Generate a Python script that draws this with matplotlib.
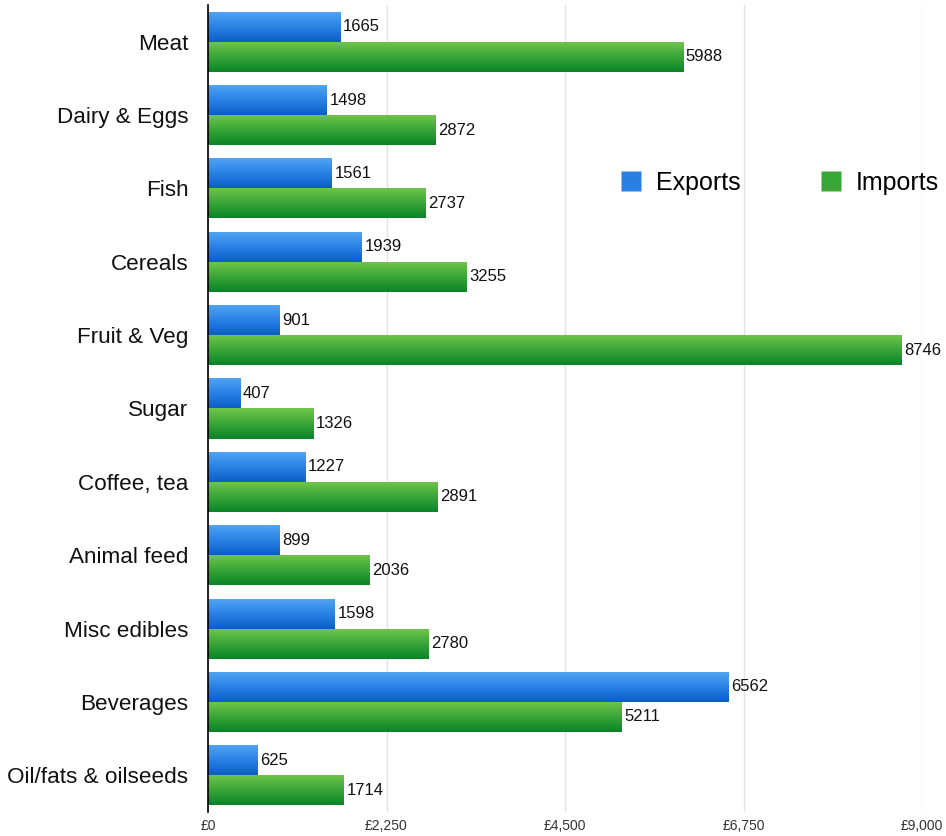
import numpy as np
import matplotlib
matplotlib.use("Agg")
import matplotlib.pyplot as plt
from matplotlib.colors import LinearSegmentedColormap
from matplotlib.lines import Line2D
from matplotlib.ticker import FuncFormatter

categories = ["Meat", "Dairy & Eggs", "Fish", "Cereals", "Fruit & Veg", "Sugar",
              "Coffee, tea", "Animal feed", "Misc edibles", "Beverages",
              "Oil/fats & oilseeds"]
exports = [1665, 1498, 1561, 1939, 901, 407, 1227, 899, 1598, 6562, 625]
imports = [5988, 2872, 2737, 3255, 8746, 1326, 2891, 2036, 2780, 5211, 1714]
xticks = [0, 2250, 4500, 6750, 9000]

plt.rcParams['font.family'] = ['Liberation Sans', 'DejaVu Sans']

fig = plt.figure(figsize=(9.46, 8.36), dpi=100)
ax = fig.add_axes([208/946, 24/836, 714/946, 807/836])

n = len(categories)
y = np.arange(n)
h = 0.41

blue_cmap = LinearSegmentedColormap.from_list("b", ["#52a6f4", "#2b82e6", "#0a5fc4"])
green_cmap = LinearSegmentedColormap.from_list("g", ["#72c64c", "#3aa638", "#0a8428"])
grad = np.linspace(0, 1, 64).reshape(-1, 1)

ax.set_axisbelow(True)
ax.grid(axis='x', color='#e3e3e3', linewidth=1)

b_exp = ax.barh(y - h/2, exports, height=h, color='none', edgecolor='none')
b_imp = ax.barh(y + h/2, imports, height=h, color='none', edgecolor='none')

for bars, cmap in ((b_exp, blue_cmap), (b_imp, green_cmap)):
    for rect in bars:
        x0, y0 = rect.get_x(), rect.get_y()
        w, hh = rect.get_width(), rect.get_height()
        im = ax.imshow(grad, cmap=cmap, aspect='auto', origin='upper',
                       extent=(x0, x0 + w, y0 + hh, y0), zorder=2,
                       interpolation='bilinear')
        im.set_clip_path(rect)

ax.bar_label(b_exp, labels=[str(v) for v in exports], padding=2, fontsize=12, color='#111111')
ax.bar_label(b_imp, labels=[str(v) for v in imports], padding=2, fontsize=12, color='#111111')

ax.set_xlim(0, 9000)
ax.set_ylim(n - 0.5, -0.5)
ax.set_xticks(xticks)
ax.xaxis.set_major_formatter(FuncFormatter(lambda v, p: "£{:,.0f}".format(v)))
ax.set_yticks(y)
ax.set_yticklabels(categories, fontsize=16.2, color='#111111')
ax.tick_params(axis='y', length=0, pad=14)
ax.tick_params(axis='x', length=0, pad=5, labelsize=10, labelcolor='#333333')

for s in ('top', 'right', 'bottom'):
    ax.spines[s].set_visible(False)
ax.spines['left'].set_color('black')
ax.spines['left'].set_linewidth(1.2)

handles = [Line2D([], [], linestyle='none', marker='s', markersize=15,
                  markerfacecolor='#2a7fe2', markeredgecolor='none'),
           Line2D([], [], linestyle='none', marker='s', markersize=15,
                  markerfacecolor='#3aa638', markeredgecolor='none')]
fig.legend(handles, ["Exports", "Imports"], loc='center right',
           bbox_to_anchor=(949/946, 1 - 183/836), ncol=2, frameon=False,
           fontsize=18, handletextpad=0.4, columnspacing=3.0, handlelength=1.2,
           borderpad=0.2, borderaxespad=0.2)

fig.savefig("out.png", dpi=100)
